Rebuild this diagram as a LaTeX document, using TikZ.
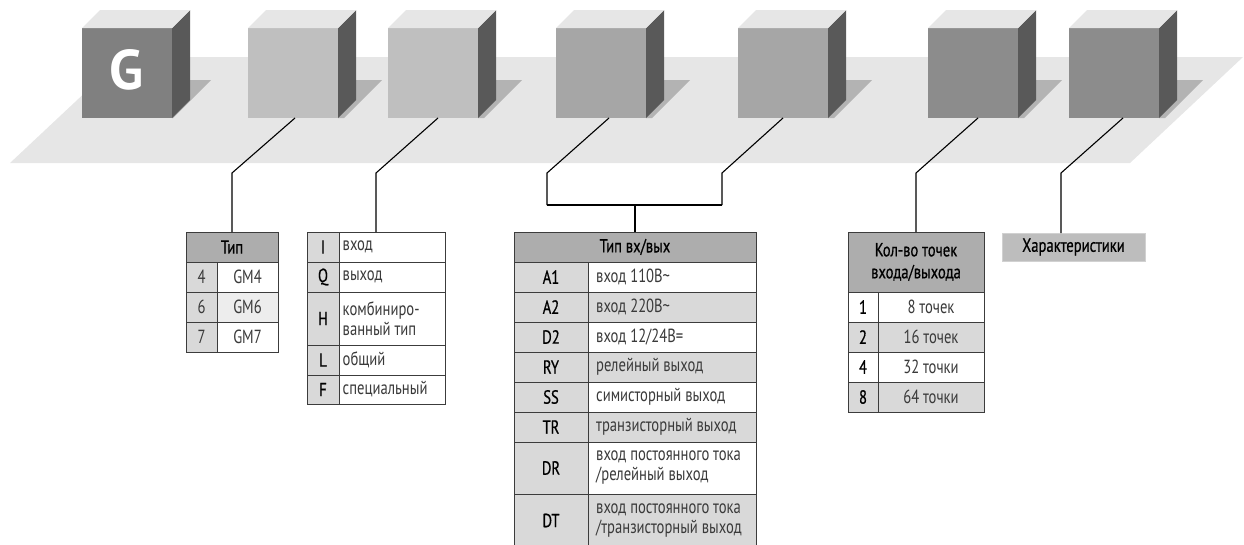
\documentclass[tikz,border=0pt]{standalone}
\usepackage{fontspec}
\setmainfont{PT Sans}[FakeStretch=0.77]
\newfontfamily\codefont{PT Sans}[FakeStretch=0.77,FakeBold=0.6]
\newfontfamily\gfont{PT Sans}
\definecolor{floorc}{HTML}{E6E6E6}
\definecolor{topc}{HTML}{E6E6E6}
\definecolor{sidec}{HTML}{595959}
\definecolor{shadc}{HTML}{B3B3B3}
\definecolor{fg}{HTML}{808080}
\definecolor{fa}{HTML}{BFBFBF}
\definecolor{fb}{HTML}{A6A6A6}
\definecolor{fc}{HTML}{8C8C8C}
\definecolor{hdrc}{HTML}{ADADAD}
\definecolor{colc}{HTML}{D9D9D9}
\definecolor{lightc}{HTML}{EDEDED}
\definecolor{tblline}{HTML}{3C3C3C}
\definecolor{descc}{HTML}{3A3A3A}
\definecolor{harc}{HTML}{BDBDBD}
% centered code cell
\newcommand\cc[6]{\filldraw[tbl,fill=#5] (#1,#2) rectangle (#3,#4); \node[txt,code] at ({(#1+#3)/2},{(#2+#4)/2}) {#6};}
% left-aligned description cell, small padding
\newcommand\cl[6]{\filldraw[tbl,fill=#5] (#1,#2) rectangle (#3,#4); \node[txt,desc,anchor=west] at ({#1+1.5},{(#2+#4)/2}) {#6};}
% left-aligned description cell, wider padding
\newcommand\cw[6]{\filldraw[tbl,fill=#5] (#1,#2) rectangle (#3,#4); \node[txt,desc,anchor=west] at ({#1+6},{(#2+#4)/2}) {#6};}
% centered description cell
\newcommand\cd[6]{\filldraw[tbl,fill=#5] (#1,#2) rectangle (#3,#4); \node[txt,desc] at ({(#1+#3)/2},{(#2+#4)/2}) {#6};}
\begin{document}
\begin{tikzpicture}[x=1pt,y=-1pt,
  cubefront/.style={minimum width=90pt,minimum height=90pt,inner sep=0pt,outer sep=0pt},
  tbl/.style={draw=tblline,line width=0.9pt},
  txt/.style={font=\fontsize{19}{20}\selectfont,text=black,inner sep=2pt,align=left},
  code/.style={font=\codefont\fontsize{19}{20}\selectfont},
  desc/.style={text=descc},
  conn/.style={draw=black,line width=1.1pt},
  hdr/.style={tbl,fill=hdrc,inner sep=0pt,outer sep=0pt,font=\codefont\fontsize{19}{22}\selectfont,align=center}]
\useasboundingbox (0,0) rectangle (1244,544);
% floor
\fill[floorc] (10,163) -- (123,57) -- (1243,57) -- (1130,163) -- cycle;
% cube fronts (nodes)
\node[cubefront] (g1) at (127,73) {};
\node[cubefront] (g2) at (293,73) {};
\node[cubefront] (g3) at (433,73) {};
\node[cubefront] (g4) at (601,73) {};
\node[cubefront] (g5) at (783,73) {};
\node[cubefront] (g6) at (973,73) {};
\node[cubefront] (g7) at (1114,73) {};
% shadows
\fill[shadc] (g1.south east) -- ++(0,-38) -- ++(39,0) -- ++(-38,38) -- cycle;
\foreach \c in {g2,g3,g4,g5,g6,g7}{
  \fill[shadc] (\c.south east) -- ++(0,-38) -- ++(44,0) -- ++(-38,38) -- cycle;
}
% cubes
\foreach \c/\f in {g1/fg,g2/fa,g3/fa,g4/fb,g5/fb,g6/fc,g7/fc}{
  \fill[\f] (\c.north west) rectangle (\c.south east);
  \fill[sidec] (\c.north east) -- ++(18,-18) -- ++(0,90) -- (\c.south east) -- cycle;
  \fill[topc] (\c.north west) -- ++(18,-18) -- ++(90,0) -- (\c.north east) -- cycle;
}
\node[text=white,font=\gfont\bfseries\fontsize{56}{56}\selectfont,inner sep=0pt] at ([yshift=3pt]g1.center) {G};
% ---- tables ----
% Тип
\node[hdr,minimum width=92pt,minimum height=30pt,draw=tblline] (tip) at (232,247) {Тип};
\cd{186}{262}{217}{292}{colc}{4}
\cd{217}{262}{278}{292}{white}{GM4}
\cd{186}{292}{217}{322}{colc}{6}
\cd{217}{292}{278}{322}{lightc}{GM6}
\cd{186}{322}{217}{352}{colc}{7}
\cd{217}{322}{278}{352}{white}{GM7}
% I Q H L F
\node[tbl,fill=colc,minimum width=32pt,minimum height=30pt,inner sep=0pt,outer sep=0pt,font=\codefont\fontsize{19}{20}\selectfont] (iq) at (323,247) {I};
\coordinate (iqtop) at (376,232);
\cl{339}{232}{445}{262}{white}{вход}
\cc{307}{262}{339}{292}{colc}{Q}
\cl{339}{262}{445}{292}{white}{выход}
\cc{307}{292}{339}{345}{colc}{H}
\cl{339}{292}{445}{345}{white}{комбиниро-\\ванный тип}
\cc{307}{345}{339}{375}{colc}{L}
\cl{339}{345}{445}{375}{white}{общий}
\cc{307}{375}{339}{404}{colc}{F}
\cl{339}{375}{445}{404}{white}{специальный}
% Тип вх/вых
\node[hdr,minimum width=242pt,minimum height=30pt,draw=tblline] (io) at (635,247) {Тип вх/вых};
\cc{514}{262}{588}{292}{colc}{A1}
\cw{588}{262}{756}{292}{white}{вход 110В\textasciitilde}
\cc{514}{292}{588}{322}{colc}{A2}
\cw{588}{292}{756}{322}{colc}{вход 220В\textasciitilde}
\cc{514}{322}{588}{352}{colc}{D2}
\cw{588}{322}{756}{352}{white}{вход 12/24В=}
\cc{514}{352}{588}{382}{colc}{RY}
\cw{588}{352}{756}{382}{colc}{релейный выход}
\cc{514}{382}{588}{412}{colc}{SS}
\cw{588}{382}{756}{412}{white}{симисторный выход}
\cc{514}{412}{588}{442}{colc}{TR}
\cw{588}{412}{756}{442}{colc}{транзисторный выход}
\cc{514}{442}{588}{494}{colc}{DR}
\cw{588}{442}{756}{494}{white}{вход постоянного тока\\/релейный выход}
\cc{514}{494}{588}{547}{colc}{DT}
\cw{588}{494}{756}{547}{colc}{вход постоянного тока\\/транзисторный выход}
% Кол-во точек
\node[hdr,minimum width=136pt,minimum height=60pt,draw=tblline] (pts) at (916,262) {Кол-во точек\\входа/выхода};
\cc{848}{292}{878}{322}{white}{1}
\cd{878}{292}{984}{322}{white}{8 точек}
\cc{848}{322}{878}{352}{colc}{2}
\cd{878}{322}{984}{352}{colc}{16 точек}
\cc{848}{352}{878}{382}{white}{4}
\cd{878}{352}{984}{382}{white}{32 точки}
\cc{848}{382}{878}{412}{colc}{8}
\cd{878}{382}{984}{412}{colc}{64 точки}
% Характеристики
\node[fill=harc,draw=harc!70!white,line width=0.8pt,minimum width=143pt,minimum height=28pt,inner sep=0pt,outer sep=0pt,font=\codefont\fontsize{19}{20}\selectfont] (har) at (1073.5,247) {Характеристики};
% ---- connectors ----
\draw[conn] ([xshift=2pt]g2.south) -- ++(-63,55) -- (tip.north);
\draw[conn] ([xshift=5pt]g3.south) -- ++(-62,55) -- (iqtop);
\coordinate (j4) at (547,205);
\coordinate (j5) at (722,205);
\draw[conn] ([xshift=8pt]g4.south) -- ++(-62,55) -- (j4);
\draw[conn] (g5.south) -- ++(-61,55) -- (j5);
\draw[conn] (j4) -- (j5);
\draw[conn] (io.north |- j4) -- (io.north);
\draw[conn] ([xshift=5pt]g6.south) -- ++(-62,55) -- (pts.north);
\draw[conn] ([xshift=9pt]g7.south) -- ++(-62,55) -- ([xshift=-12.5pt]har.north);
\end{tikzpicture}
\end{document}
